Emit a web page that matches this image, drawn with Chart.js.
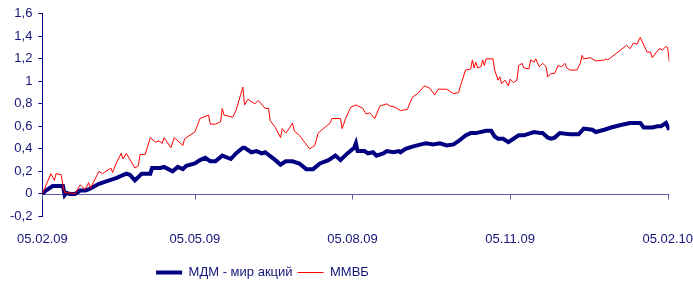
<!DOCTYPE html>
<html lang="ru">
<head>
    <meta charset="UTF-8">
    <title>МДМ - мир акций / ММВБ</title>
    <script src="https://cdn.jsdelivr.net/npm/chart.js"></script>
    <style>
        html, body { margin: 0; padding: 0; background: #ffffff; }
        #wrap { width: 693px; height: 281px; position: relative; }
    </style>
</head>
<body>
    <div id="wrap"><canvas id="chart"></canvas></div>

    <script>
        // x values are days counted from 05.02.09
        const tickDays = [0, 89, 181, 273, 365];
        const tickLabels = ['05.02.09', '05.05.09', '05.08.09', '05.11.09', '05.02.10'];

        const seriesNames = ['МДМ - мир акций', 'ММВБ'];

        // МДМ - мир акций
        const mdmDays = [0, 2, 6, 11, 12, 13, 14, 16, 19, 22, 25, 27, 33, 39, 43, 49, 51, 54, 58, 63, 64, 69, 71, 76, 79, 82, 84,
            89, 92, 95, 98, 101, 105, 110, 113, 117, 118, 122, 125, 128, 130, 136, 139, 142, 146, 150, 154, 158, 162, 167,
            171, 174, 178, 182, 183, 184, 188, 190, 193, 195, 199, 201, 205, 208, 209, 212, 216, 221, 224, 228, 232, 236,
            240, 243, 247, 250, 253, 259, 262, 264, 266, 269, 272, 275, 278, 281, 287, 291, 292, 295, 297, 299, 302, 308,
            313, 316, 321, 323, 328, 332, 337, 343, 349, 351, 356, 359, 361, 364, 366];
        const mdmValues = [0, 0.03, 0.07, 0.07, 0.07, -0.01, 0.01, 0, 0, 0.03, 0.03, 0.04, 0.09, 0.12, 0.14, 0.18, 0.17, 0.12,
            0.18, 0.18, 0.23, 0.23, 0.24, 0.20, 0.24, 0.22, 0.25,
            0.27, 0.30, 0.32, 0.29, 0.29, 0.34, 0.31, 0.36, 0.41, 0.41, 0.37, 0.38, 0.36, 0.37, 0.30, 0.26, 0.29, 0.29, 0.27,
            0.22, 0.22, 0.27, 0.30,
            0.34, 0.30, 0.36, 0.41, 0.45, 0.38, 0.38, 0.36, 0.37, 0.34, 0.36, 0.38, 0.37, 0.38, 0.37, 0.40, 0.42, 0.44, 0.45,
            0.44, 0.45, 0.43,
            0.44, 0.47, 0.52, 0.54, 0.54, 0.56, 0.56, 0.51, 0.49, 0.49, 0.46, 0.49, 0.52, 0.52, 0.55, 0.54, 0.54, 0.50, 0.49,
            0.50, 0.54, 0.53,
            0.53, 0.58, 0.57, 0.55, 0.57, 0.59, 0.61, 0.63, 0.63, 0.59, 0.59, 0.60, 0.60, 0.63, 0.57];

        // ММВБ
        const micexDays = [0, 5, 7, 8, 11, 12, 13, 15, 19, 22, 25, 27, 28, 33, 35, 40, 41, 43, 46, 47, 49, 54, 56, 57, 60, 63,
            66, 68, 70, 71, 75, 77, 82, 83, 89, 92, 97, 98, 101, 104, 105, 106, 109, 111, 113, 117, 118, 120, 124, 126, 130,
            132, 133, 136, 139, 140, 142, 144, 146, 147, 150, 153, 156, 159, 161, 164, 168, 169, 174, 175, 177, 180, 183,
            187, 189, 191, 194, 197, 201, 203, 206, 209, 213, 216, 219, 223, 226, 229, 231, 236, 240, 243, 244, 247, 250,
            251, 252, 253, 254, 256, 257, 258, 259, 263, 264, 266, 267, 268, 270, 272, 273, 275, 277, 278, 280, 281, 284,
            285, 287, 288, 290, 292, 294, 295, 297, 299, 301, 303, 305, 306, 308, 312, 314, 315, 316, 320, 323, 328, 329,
            330, 341, 343, 345, 347, 349, 353, 355, 356, 360, 362, 364, 365, 366];
        const micexValues = [0, 0.18, 0.12, 0.18, 0.17, 0.07, 0.01, 0.01, 0, 0.08, 0.04, 0.10, 0.05, 0.20, 0.18, 0.23, 0.19,
            0.27, 0.36, 0.31, 0.36, 0.23, 0.25, 0.35, 0.35, 0.50,
            0.46, 0.47, 0.45, 0.50, 0.41, 0.50, 0.43, 0.49, 0.55, 0.67, 0.70, 0.62, 0.62, 0.64, 0.76, 0.70, 0.69, 0.68, 0.74,
            0.95, 0.79, 0.84, 0.80, 0.83, 0.76,
            0.76, 0.65, 0.59, 0.50, 0.58, 0.54, 0.58, 0.63, 0.56, 0.52, 0.46, 0.40, 0.43, 0.54, 0.58, 0.63, 0.67, 0.67, 0.58,
            0.67, 0.77, 0.79,
            0.76, 0.71, 0.72, 0.67, 0.78, 0.80, 0.78, 0.77, 0.74, 0.75, 0.86, 0.89, 0.96, 0.94, 0.88, 0.93, 0.93, 0.89, 0.90,
            0.96, 1.10, 1.11,
            1.19, 1.12, 1.17, 1.12, 1.13, 1.19, 1.14, 1.20, 1.20, 1.10, 1.01, 1.04, 0.98, 1.01, 0.96, 1.02, 0.99, 1.01, 1.14,
            1.16, 1.12, 1.11,
            1.19, 1.17, 1.20, 1.13, 1.16, 1.13, 1.04, 1.07, 1.07, 1.14, 1.13, 1.16, 1.12, 1.10, 1.10, 1.16, 1.23, 1.20, 1.21,
            1.18, 1.19, 1.20,
            1.19, 1.32, 1.29, 1.34, 1.33, 1.39, 1.26, 1.26, 1.21, 1.29, 1.28, 1.31, 1.30, 1.17];

        const navy = '#000080';
        const textColor = '#14147a';
        const zeroLineColor = '#5c5ca8';
        const fontFamily = 'Liberation Sans, Arial, sans-serif';

        // zero line with date ticks, like the original (axis crosses at 0)
        const zeroAxis = {
            id: 'zeroAxis',
            beforeDatasetsDraw(chart) {
                const { ctx, chartArea, scales } = chart;
                const y0 = Math.round(scales.y.getPixelForValue(0)) + 0.5;
                ctx.save();
                ctx.strokeStyle = zeroLineColor;
                ctx.lineWidth = 1;
                ctx.beginPath();
                ctx.moveTo(chartArea.left, y0);
                ctx.lineTo(chartArea.right, y0);
                tickDays.forEach(d => {
                    const px = Math.round(scales.x.getPixelForValue(d)) + 0.5;
                    ctx.moveTo(px, y0);
                    ctx.lineTo(px, y0 + 5);
                });
                ctx.stroke();
                ctx.restore();
            }
        };

        // legend in the original sits left of centre and close to the bottom edge
        const legendShift = {
            id: 'legendShift',
            afterLayout(chart) {
                const lg = chart.legend;
                lg.left -= 86;
                lg.right -= 86;
                lg.top += 14;
                lg.bottom += 14;
            }
        };

        const toPoints = (xs, ys) => xs.map((x, i) => ({ x: x, y: ys[i] }));

        new Chart(document.getElementById('chart'), {
            type: 'line',
            data: {
                datasets: [{
                    label: seriesNames[0],
                    data: toPoints(mdmDays, mdmValues),
                    borderColor: navy,
                    backgroundColor: navy,
                    borderWidth: 4,
                    pointRadius: 0,
                    tension: 0,
                    order: 2
                }, {
                    label: seriesNames[1],
                    data: toPoints(micexDays, micexValues),
                    borderColor: '#ff0000',
                    backgroundColor: '#ff0000',
                    borderWidth: 1,
                    pointRadius: 0,
                    tension: 0,
                    order: 1
                }]
            },
            options: {
                responsive: true,
                maintainAspectRatio: false,
                animation: false,
                layout: { padding: { left: 4, top: 12, right: 0, bottom: 6 } },
                plugins: {
                    tooltip: { enabled: false },
                    legend: {
                        position: 'bottom',
                        maxHeight: 34,
                        labels: {
                            usePointStyle: true,
                            pointStyle: 'line',
                            pointStyleWidth: 26,
                            padding: 5,
                            color: textColor,
                            font: { family: fontFamily, size: 13 },
                            sort: (a, b) => a.datasetIndex - b.datasetIndex
                        }
                    }
                },
                scales: {
                    x: {
                        type: 'linear',
                        min: 0,
                        max: 366,
                        grid: {
                            display: true,
                            drawOnChartArea: false,
                            drawTicks: true,
                            tickLength: 15,
                            color: 'rgba(0,0,0,0)'
                        },
                        border: { display: false },
                        afterBuildTicks(scale) {
                            scale.ticks = tickDays.map(v => ({ value: v }));
                        },
                        ticks: {
                            autoSkip: false,
                            maxRotation: 0,
                            padding: 0,
                            color: textColor,
                            font: { family: fontFamily, size: 13 },
                            callback(value) {
                                const i = tickDays.indexOf(value);
                                return i >= 0 ? tickLabels[i] : '';
                            }
                        }
                    },
                    y: {
                        min: -0.2,
                        max: 1.6,
                        grid: {
                            drawOnChartArea: false,
                            drawTicks: true,
                            tickLength: 4,
                            color: navy
                        },
                        border: { display: true, color: navy, width: 1 },
                        ticks: {
                            stepSize: 0.2,
                            autoSkip: false,
                            padding: 6,
                            color: textColor,
                            font: { family: fontFamily, size: 13 },
                            callback(value) {
                                return String(Math.round(value * 10) / 10).replace('.', ',');
                            }
                        }
                    }
                }
            },
            plugins: [zeroAxis, legendShift]
        });
    </script>
</body>
</html>
